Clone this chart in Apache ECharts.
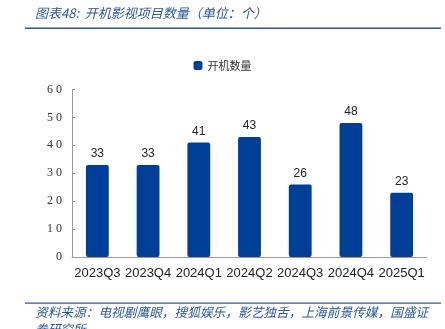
<!DOCTYPE html>
<html><head><meta charset="utf-8">
<script src="https://cdn.jsdelivr.net/npm/echarts@6/dist/echarts.min.js"></script>
<style>html,body{margin:0;padding:0;background:#fff}#c{width:445px;height:329px}</style>
</head><body><div id="c"></div>
<script>
const categories = ['2023Q3','2023Q4','2024Q1','2024Q2','2024Q3','2024Q4','2025Q1'];
const values = [33,33,41,43,26,48,23];
const yTicks = [0,10,20,30,40,50,60];
const seriesName = '开机数量';
const titleText = '图表48:  开机影视项目数量（单位：个）';
const sourceText = '资料来源：电视剧鹰眼，搜狐娱乐，影艺独舌，上海前景传媒，国盛证';
const sourceText2 = '券研究所';

const chart = echarts.init(document.getElementById('c'), null, {renderer:'canvas'});
const blue = '#003f98';
const titleBlue = '#2b5797';
chart.setOption({
  animation:false,
  backgroundColor:'#fff',
  grid:{left:72, right:18, top:89.5, bottom:72, containLabel:false},
  legend:{
    data:[{name:seriesName, icon:'roundRect'}],
    top:55, left:'center',
    itemWidth:9, itemHeight:9, itemGap:4,
    textStyle:{fontFamily:'Noto Sans CJK SC', fontSize:11, color:'#333'}
  },
  xAxis:{
    type:'category', data:categories,
    axisLine:{lineStyle:{color:'#999', width:1}},
    axisTick:{inside:true, length:4, alignWithLabel:false, lineStyle:{color:'#999'}},
    axisLabel:{interval:0, margin:10, fontFamily:'Liberation Sans, Arial', fontSize:13, color:'#222'}
  },
  yAxis:{
    type:'value', min:yTicks[0], max:yTicks[yTicks.length-1], interval:10,
    splitLine:{show:false},
    axisLine:{show:true, lineStyle:{color:'#999'}},
    axisTick:{show:true, inside:true, length:3, lineStyle:{color:'#999'}},
    axisLabel:{margin:10, fontFamily:'Liberation Serif, serif', fontSize:12, color:'#333',
      formatter:v=>String(v).split('').join(' ')}
  },
  series:[{
    name:seriesName, type:'bar', data:values, barWidth:'45%',
    itemStyle:{color:blue, borderRadius:2},
    label:{show:true, position:'top', distance:5, fontFamily:'Liberation Sans, Arial', fontSize:12, color:'#222'}
  }],
  graphic:[
    {type:'text', left:35, top:7, style:{text:titleText, fill:titleBlue, font:'italic 13px "Noto Sans CJK SC"'}},
    {type:'rect', shape:{x:25, y:27.5, width:416, height:1.5}, style:{fill:titleBlue}},
    {type:'rect', shape:{x:25, y:302.5, width:416, height:1.2}, style:{fill:titleBlue}},
    {type:'text', left:35, top:306, style:{text:sourceText, fill:titleBlue, font:'italic 12.7px "Noto Sans CJK SC"'}},
    {type:'text', left:35, top:323, style:{text:sourceText2, fill:titleBlue, font:'italic 12.7px "Noto Sans CJK SC"'}}
  ]
});
</script></body></html>
